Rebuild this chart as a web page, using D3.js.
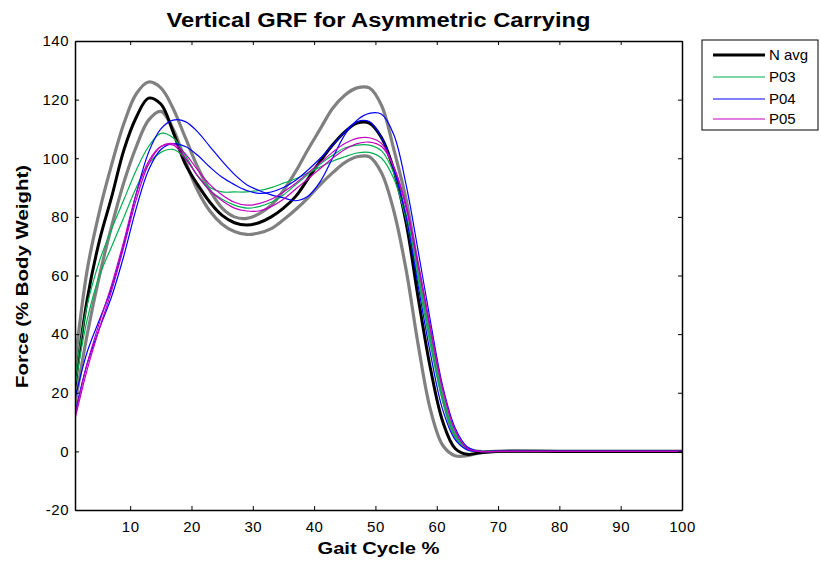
<!DOCTYPE html>
<html><head><meta charset="utf-8">
<script src="https://cdn.jsdelivr.net/npm/d3@7"></script>
<style>
body{margin:0;background:#fff;}
text{font-family:Arial,"Liberation Sans",Helvetica,sans-serif;}
</style></head>
<body><svg id="c" width="821" height="561"></svg>
<script>
// ---- data ----
const gaitX = [1,3,5,7,9,11,13,15,17,19,21,23,25,27,29,31,33,35,37,39,41,43,45,47,49,51,53,55,57,59,61,63,65,67,70,80,90,100];
const nAvg   = [22,52,72,87,103,114,120.5,118.5,109,98,91,85,80.5,78,77.2,78,80,83,87,93,99,104.5,109,112,112,107,96,78,52,28,10,1,-1,-0.5,0,0,0,0];
const sdUpper= [30,62,82,98,112,122,126,124,117,107,97,89,83,80,79.5,81,84,89,95.5,103,110,117,121.5,124,124,118,103,86,62,39,18,5,1,0,0,0,0,0];
const sdLower= [16,40,60,77,92,104,113,116,110,99,89,82,77.5,75,74,74.5,76,79,82.5,86.5,91,95,98.5,100.5,100.5,95,82,62,36,14,2,-1.5,-1.5,-0.5,0,0,0,0];
const p03a   = [25,50,65,76,86,96,104,108.5,107,101,94,90,88.5,88.5,88.5,89,90,91.5,93,95,97,99,100.5,101.8,102,100,93,79,58,36,17,5,0.5,0,0,0,0,0];
const p03b   = [22,45,60,70,80,90,98,102,103,100,94,89,86,84,83,83.5,85,87.5,91,94.5,98,101,103.5,104.5,104.5,102.5,95,81,60,38,18,6,1,0,0,0,0,0];
const p04a   = [18,34,45,56,71,88,102,110,113,112.5,109,104,99,94.5,91,89,87.5,86.5,85.5,87,92,100,108,113,115.3,115,108,91,68,44,22,8,1.5,0,0,0,0,0];
const p04b   = [13,30,42,53,67,83,96,103,105,104,101,97,93.5,91,89,88,88.5,90,92.5,96,100,104.5,109,112.5,112.5,107,96,80,56,33,14,4,0.5,0,0,0,0,0];
const p05a   = [11,28,42,55,70,86,98,104,105,101.5,96,91,87.5,85,84,84.5,86,88.5,91.5,95,98.5,102,105,106.8,107,105,97,83,63,41,21,7,1,0,0,0,0,0];
const p05b   = [12,30,44,57,72,88,99,104,104.5,100,94,89,85.5,83,82,82,83.5,86,89.5,93,96.5,100,103,105,105.5,104,97,84,64,42,21,7,1,0,0,0,0,0];
const xTicks = [10,20,30,40,50,60,70,80,90,100];
const yTicks = [-20,0,20,40,60,80,100,120,140];
const legendLabels = ["N avg","P03","P04","P05"];
const legendColors = ["#000000","#00b050","#0000ff","#c000c0"];

// ---- layout ----
const svg = d3.select("#c");
const L=75,R=682,T=41,B=510;
const x = d3.scaleLinear().domain([1,100]).range([L,R]);
const y = d3.scaleLinear().domain([-20,140]).range([B,T]);

svg.append("defs").append("clipPath").attr("id","clip")
  .append("rect").attr("x",L).attr("y",T).attr("width",R-L).attr("height",B-T);

const line = d3.line().x((d,i)=>x(gaitX[i])).y(d=>y(d)).curve(d3.curveCatmullRom.alpha(0.5));
const g = svg.append("g").attr("clip-path","url(#clip)");
const series = [
  {v:sdUpper,c:"#808080",w:3.2},
  {v:sdLower,c:"#808080",w:3.2},
  {v:nAvg,c:"#000000",w:3},
  {v:p03a,c:legendColors[1],w:1.2},
  {v:p03b,c:legendColors[1],w:1.2},
  {v:p04a,c:legendColors[2],w:1.2},
  {v:p04b,c:legendColors[2],w:1.2},
  {v:p05a,c:legendColors[3],w:1.2},
  {v:p05b,c:legendColors[3],w:1.2},
];
series.forEach(s=>{
  g.append("path").attr("d",line(s.v)).attr("fill","none").attr("stroke",s.c).attr("stroke-width",s.w).attr("stroke-linejoin","round");
});

// axes (box with inward ticks)
const fmt = d=>String(d);
const ax = svg.append("g").attr("transform",`translate(0,${B})`).call(d3.axisBottom(x).tickValues(xTicks).tickFormat(fmt).tickSize(-4).tickSizeOuter(0).tickPadding(11));
const ax2 = svg.append("g").attr("transform",`translate(0,${T})`).call(d3.axisTop(x).tickValues(xTicks).tickSize(-4).tickSizeOuter(0).tickFormat(""));
const ay = svg.append("g").attr("transform",`translate(${L},0)`).call(d3.axisLeft(y).tickValues(yTicks).tickFormat(fmt).tickSize(-4).tickSizeOuter(0).tickPadding(6));
const ay2 = svg.append("g").attr("transform",`translate(${R},0)`).call(d3.axisRight(y).tickValues(yTicks).tickSize(-4).tickSizeOuter(0).tickFormat(""));
[ax,ax2,ay,ay2].forEach(a=>{
  a.select(".domain").attr("stroke","#000").attr("stroke-width",1.5);
  a.selectAll(".tick line").attr("stroke","#000");
  a.selectAll("text").attr("font-size",15).attr("letter-spacing","0.5px").attr("fill","#000").attr("font-family","Arial, 'Liberation Sans', sans-serif");
});

// titles
svg.append("text").attr("x",(L+R)/2).attr("y",27).attr("text-anchor","middle")
  .attr("font-size",20).attr("font-weight","bold").attr("textLength",424).attr("lengthAdjust","spacingAndGlyphs")
  .text("Vertical GRF for Asymmetric Carrying");
svg.append("text").attr("x",(L+R)/2).attr("y",554).attr("text-anchor","middle")
  .attr("font-size",17).attr("font-weight","bold").attr("textLength",122).attr("lengthAdjust","spacingAndGlyphs")
  .text("Gait Cycle %");
svg.append("text").attr("transform",`translate(28,${(T+B)/2+1}) rotate(-90)`).attr("text-anchor","middle")
  .attr("font-size",17).attr("font-weight","bold").attr("textLength",223).attr("lengthAdjust","spacingAndGlyphs")
  .text("Force (% Body Weight)");

// legend
const lg = svg.append("g");
lg.append("rect").attr("x",702).attr("y",40).attr("width",116).attr("height",90).attr("fill","#fff").attr("stroke","#000").attr("stroke-width",1);
const ly = [55,77,99,119];
legendLabels.forEach((t,i)=>{
  lg.append("line").attr("x1",713).attr("x2",765).attr("y1",ly[i]).attr("y2",ly[i]).attr("stroke",legendColors[i]).attr("stroke-width",i===0?3:1.2);
  lg.append("text").attr("x",769).attr("y",ly[i]+5).attr("font-size",15).text(t);
});
</script></body></html>
